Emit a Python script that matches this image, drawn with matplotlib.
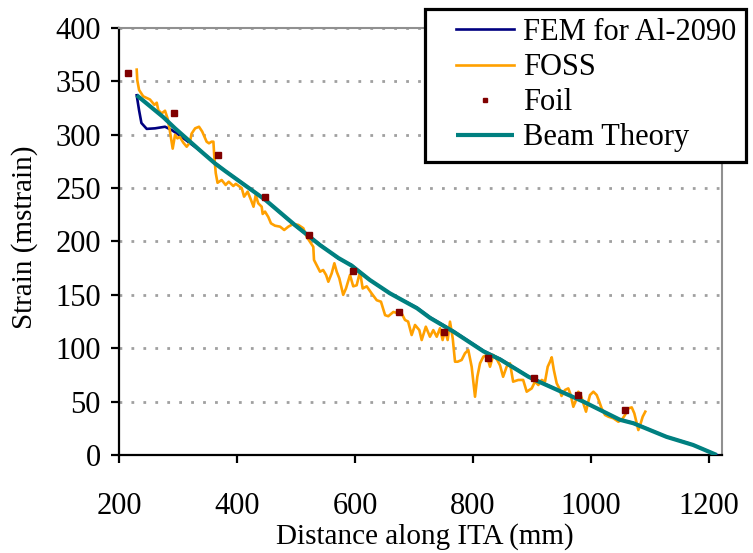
import matplotlib
matplotlib.use("Agg")
import matplotlib.pyplot as plt
from matplotlib.lines import Line2D
from matplotlib.legend_handler import HandlerLine2D

plt.rcParams["font.family"] = ["Liberation Serif", "DejaVu Serif"]

# ---- data -------------------------------------------------------------
fem_x = [230, 234, 238, 247, 261, 278, 289, 300, 340, 363, 380, 398, 448,
         498, 541, 572, 594, 625, 659, 705, 727, 767, 818, 846, 894, 908,
         987, 1049, 1072, 1128, 1165, 1175, 1213]
fem_y = [337, 323, 311, 305.5, 306, 307.5, 304.5, 300.5, 284, 273.5, 266,
         259, 239, 215, 197, 184, 178, 164, 151.5, 138, 129, 116, 97.5, 90,
         73.5, 70, 50, 33, 30, 17, 11, 9, 0]

foss_x = [230, 231, 234, 241, 252.5, 260, 264, 266.6, 272.3, 278, 282.5,
          286.4, 291, 295, 299, 303, 309, 314.7, 320, 323, 329, 335.6, 341,
          348.5, 352.5, 357, 360, 361.5, 364, 367, 374, 380.7, 386, 393.7,
          398, 408, 412, 418, 423.7, 428, 431.7, 436, 441.8, 443.5, 447.5,
          453, 457.6, 464.4, 473, 480, 487, 495.4, 504, 512.4, 518, 523.7,
          529.3, 530.5, 540.7, 546, 551, 554.8, 560.5, 565, 569, 573.4, 580,
          584.7, 591.5, 597, 602.8, 608.5, 613, 619.8, 628, 636.8, 644, 651,
          656.4, 665, 671.6, 679, 684.7, 690, 696, 701.7, 709, 713, 720, 727,
          732.7, 738.5, 744, 748.5, 752.5, 757, 761, 765.6, 769.5, 774,
          780.7, 786.4, 792, 797.7, 803.4, 807.3, 811.9, 817.5, 823, 828.8,
          834.4, 841, 845.8, 851, 857, 862.7, 868, 876.8, 885, 891, 899.5,
          905, 910.7, 916.4, 922, 926.6, 930.5, 933.4, 937, 941.8, 946.3,
          950, 955.9, 961.5, 965.6, 970, 974.6, 978.5, 982.5, 987, 991.5,
          995.4, 998.3, 1004, 1009.6, 1014, 1018, 1023.7, 1029.4, 1037.8,
          1046.3, 1052, 1057.6, 1063.2, 1069, 1073.4, 1077.5, 1080.2, 1084.2,
          1087.6, 1092]
foss_y = [361, 351, 342, 336, 333, 328, 330, 323, 320, 322.5, 315, 303, 287,
          300, 296.6, 298, 292.6, 288.8, 292.6, 301, 306, 307.5, 303, 293.5,
          292, 293.5, 293.5, 279.5, 264, 255, 257.6, 253, 256, 252, 254, 250,
          242, 246.7, 239, 232.6, 243.6, 235.8, 232.6, 225.8, 228, 223, 217,
          214.8, 213.9, 210.8, 213.9, 216.4, 215.5, 212.4, 204.5, 199.8, 195,
          182.7, 171.7, 173.3, 168.6, 162.3, 170.2, 179.6, 171.7, 165.5, 150,
          156, 168.6, 158, 159, 171.7, 156, 158, 151.5, 145, 143.6, 131, 130,
          134, 133, 132.7, 126.5, 125, 112.4, 121.8, 117, 107.7, 120.2, 110.8,
          117, 110.8, 118.7, 107.7, 117, 107.7, 124.9, 109.3, 87.4, 87.4, 89,
          95.3, 98.4, 82.7, 54.6, 73.3, 85.9, 92.1, 93.7, 82.7, 93.7, 89, 84,
          73.3, 82.7, 85.9, 68.7, 70.3, 70.3, 59.3, 62.4, 68.7, 65.6, 70.3,
          68.7, 82.7, 87.4, 91.5, 79.6, 67.2, 62.4, 55.3, 60.9, 62.4, 56.2,
          45.2, 51.5, 59.3, 56.2, 48.4, 40.6, 50, 56.2, 59.3, 56.2, 50, 43.7,
          37.5, 35.9, 34.4, 31.2, 32.8, 37.5, 43.7, 44.6, 39, 29.7, 23.4,
          29.7, 35.9, 40.6]

foil_x = [215, 294, 368, 447, 522, 596, 675, 750, 825, 904, 978, 1058]
foil_y = [358, 320, 281, 242, 206, 172, 134, 115, 91, 72, 56, 42]

beam_x = [230, 275, 295, 340, 363, 380, 448, 498, 541, 572, 594, 625, 659,
          705, 727, 767, 818, 846, 894, 908, 987, 1049, 1072, 1128, 1173,
          1213]
beam_y = [337, 316.5, 306, 284, 273, 266, 239, 215.5, 196.5, 184.5, 177.5,
          164, 151.5, 137.5, 128.5, 115.5, 97, 89.5, 73.3, 69.6, 50, 33,
          29.7, 17, 9.4, 0]

labels = ["FEM for Al-2090", "FOSS", "Foil", "Beam Theory"]
x_ticks = [200, 400, 600, 800, 1000, 1200]
y_ticks = [0, 50, 100, 150, 200, 250, 300, 350, 400]

# ---- figure -----------------------------------------------------------
W, H = 753, 553
fig = plt.figure(figsize=(W / 100, H / 100), dpi=100)
ax = fig.add_axes([119 / W, (H - 455) / H, (722 - 119) / W, (455 - 28) / H])

fem, = ax.plot(fem_x, fem_y, color="#000080", lw=1.9, zorder=3)
foss, = ax.plot(foss_x, foss_y, color="#FFA000", lw=1.9, zorder=4)
beam, = ax.plot(beam_x, beam_y, color="#008080", lw=3.0, zorder=5,
                solid_capstyle="butt")
foil, = ax.plot(foil_x, foil_y, ls="none", marker="s", ms=4.5,
                color="#800000", zorder=6)

ax.set_xlim(200, 1222)
ax.set_ylim(0, 400)
ax.set_xticks(x_ticks)
ax.set_yticks(y_ticks)

ax.set_axisbelow(True)
ax.yaxis.grid(True, linestyle=(0, (1, 3.3)), color="#a0a0a0", lw=2.0)
ax.xaxis.grid(False)

for side in ("left", "bottom"):
    ax.spines[side].set_color("black")
    ax.spines[side].set_linewidth(1.6)
for side in ("top", "right"):
    ax.spines[side].set_color("#909090")
    ax.spines[side].set_linewidth(1.5)

ax.tick_params(axis="both", direction="out", length=6, width=1.6,
               labelsize=22, colors="black")
ax.tick_params(axis="x", pad=21)
ax.tick_params(axis="y", pad=7)

ax.set_xlabel("Distance along ITA (mm)", fontsize=21)
ax.xaxis.set_label_coords(0.507, -(523 - 455) / (455 - 28))
ax.xaxis.label.set_verticalalignment("top")
ax.set_ylabel("Strain (mstrain)", fontsize=21)
ax.yaxis.set_label_coords((38 - 119) / (722 - 119), 0.51)

fs = 22
leg = ax.legend([fem, foss, foil, beam], labels,
                loc="upper left",
                bbox_to_anchor=(425 / W, 1 - 9 / H),
                bbox_transform=fig.transFigure,
                borderaxespad=0, borderpad=0.3,
                handlelength=2.62, handletextpad=0.3,
                labelspacing=0.2, fontsize=fs,
                markerscale=0.7, numpoints=1,
                fancybox=False, framealpha=1, edgecolor="black",
                handler_map={Line2D: HandlerLine2D(xpad=0.72)})
leg.get_frame().set_linewidth(2.3)
leg.set_zorder(10)

fig.savefig("out.png", dpi=100)
